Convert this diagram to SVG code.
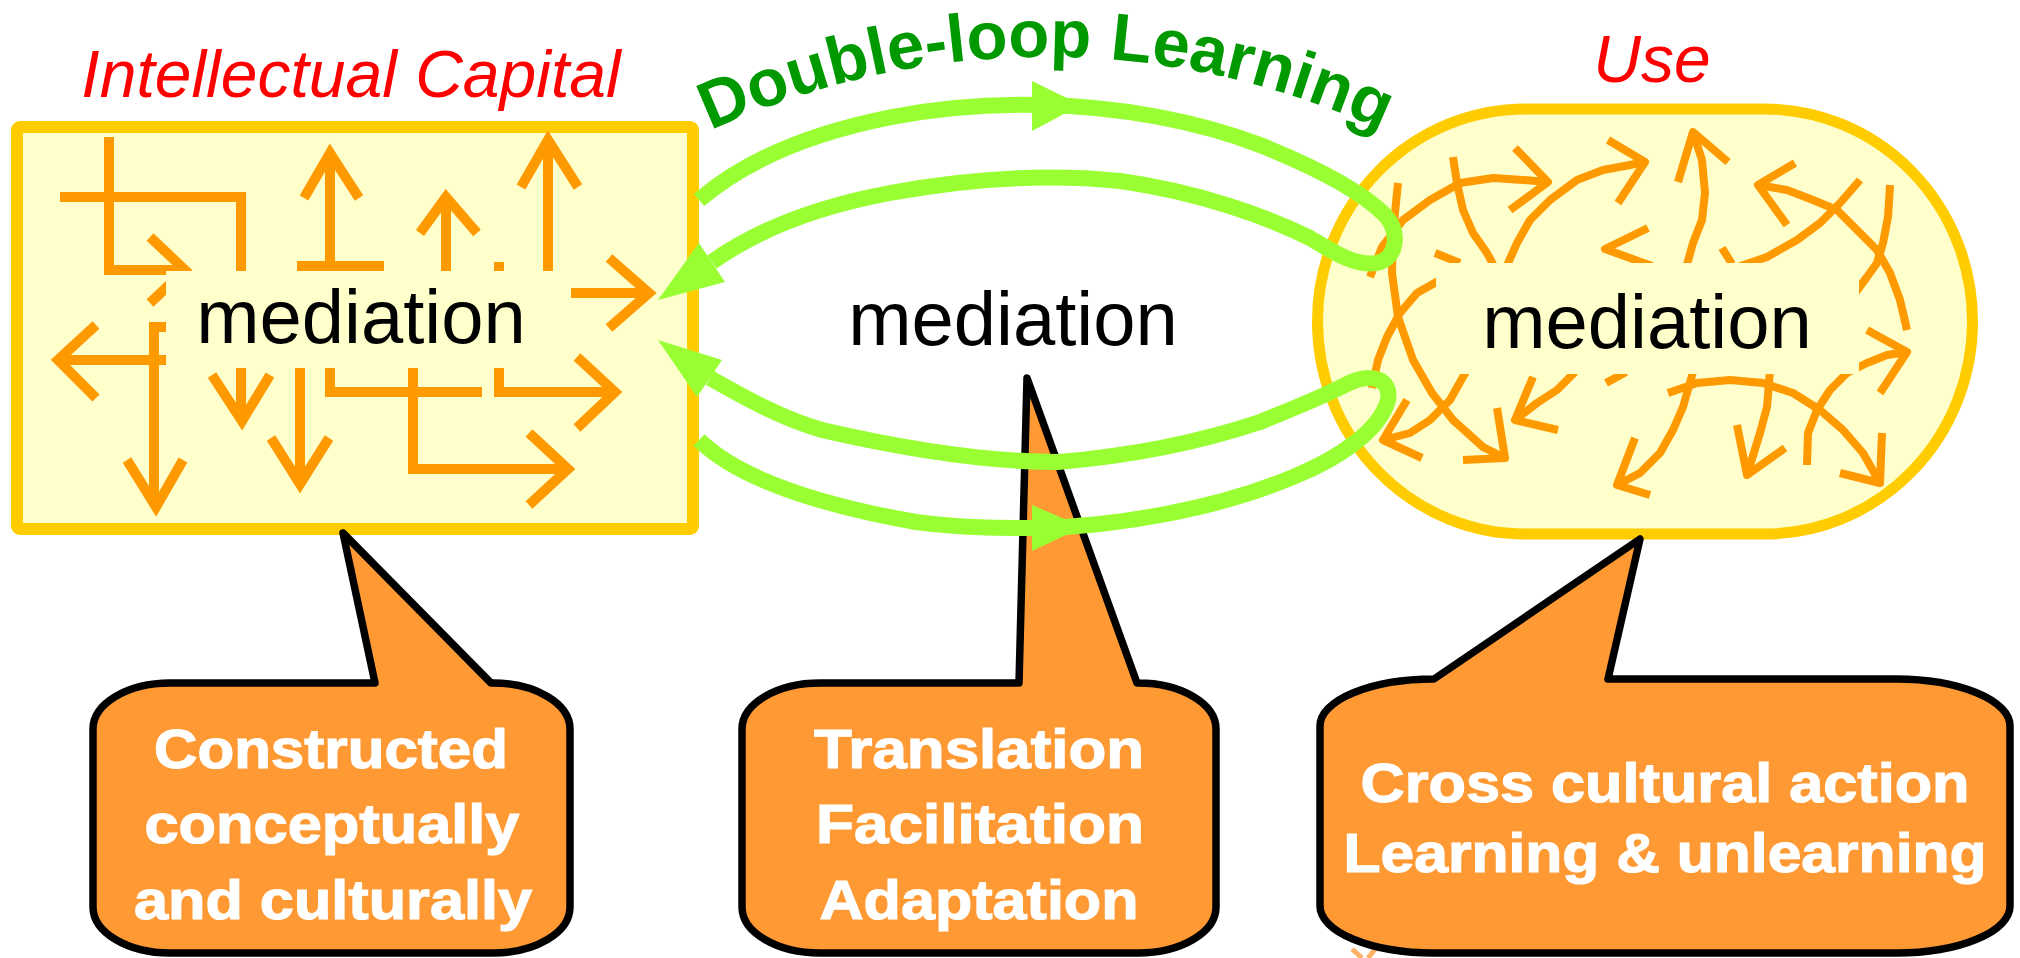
<svg xmlns="http://www.w3.org/2000/svg" width="2020" height="958" viewBox="0 0 2020 958">
  <style>
    .box { fill: #FFFFCC; stroke: #FFCC00; }
    .pad { fill: #FFFFCC; stroke: none; }
    .ar { fill: none; stroke: #FF9900; stroke-width: 10; stroke-linejoin: miter; stroke-linecap: butt; }
    .cu { fill: none; stroke: #FF9900; stroke-width: 8; stroke-linejoin: round; stroke-linecap: butt; }
    .loop { fill: none; stroke: #99FF33; stroke-width: 16; stroke-linejoin: round; }
    .head { fill: #99FF33; stroke: none; }
    .callout { fill: #FF9933; stroke: #000000; stroke-width: 7.5; stroke-linejoin: round; }
    .med { font-family: "Liberation Sans", Arial, sans-serif; font-size: 76px; fill: #000000; text-anchor: middle; }
    .title { font-family: "Liberation Sans", Arial, sans-serif; font-style: italic; font-size: 66px; fill: #FF0000; text-anchor: middle; }
    .ct { font-family: "Liberation Sans", Arial, sans-serif; font-weight: bold; font-size: 55px; fill: #FFFFFF; stroke: #FFFFFF; stroke-width: 1.2; text-anchor: middle; }
    .dl { font-family: "Liberation Sans", Arial, sans-serif; font-weight: bold; font-size: 67px; fill: #009900; }
  </style>
  <defs>
    <path id="dlArc" d="M646,164 A800,800 0 0 1 1446,164" fill="none"/>
  </defs>

  <rect width="2020" height="958" fill="#FFFFFF"/>

  <!-- Intellectual Capital: square-grid arrows -->
  <g id="capital">
    <rect class="box" x="17" y="127" width="676" height="402" rx="3" stroke-width="12"/>
    <g class="ar">
      <path d="M60,197 H241 V271"/>
      <path d="M109,137 V270 H185"/>
      <path d="M150,237 L185,270 L150,303"/>
      <path d="M330,155 V266 M297,266 H384 M304,198 L330,153 L359,198"/>
      <path d="M446,199 V271 M420,233 L446,197 L477,233"/>
      <path d="M548,142 V271 M521,187 L548,140 L578,187"/>
      <path d="M571,293 H647 M609,258 L649,293 L609,328"/>
      <path d="M60,360 H166 M96,325 L58,360 L96,398"/>
      <path d="M166,327 H154 V505 M127,460 L156,507 L183,460"/>
      <path d="M241,368 V419 M212,375 L242,421 L270,375"/>
      <path d="M300,368 V482 M271,438 L300,484 L329,438"/>
      <path d="M330,368 V392 H482"/>
      <path d="M413,368 V469 H566 M529,433 L568,469 L529,505"/>
      <path d="M499,368 V392 H613 M577,357 L615,392 L577,428"/>
    </g>
    <rect x="494" y="262" width="10" height="9" fill="#FF9900"/>
    <rect class="pad" x="166" y="271" width="405" height="97"/>
    <text class="med" x="361" y="343">mediation</text>
  </g>

  <!-- Use: free-form curved arrows -->
  <g id="use">
    <rect class="box" x="1317.5" y="109" width="655" height="425" rx="208" ry="212.5" stroke-width="11"/>
    <g class="cu">
      <path d="M1398,183 L1393,233 L1392,273 L1398,317 L1413,360 L1432,393 L1453,420 L1483,447 L1505,458 M1497,408 L1505,458 L1463,460"/>
      <path d="M1370,277 L1382,247 L1403,220 L1430,200 L1460,183 L1493,178 L1523,180 L1548,182 M1515,148 L1548,182 L1510,210"/>
      <path d="M1453,157 L1457,183 L1463,210 L1473,233 L1487,253 L1496,270"/>
      <path d="M1440,280 L1417,293 L1400,313 L1387,337 L1378,360 L1372,388"/>
      <path d="M1468,368 L1450,400 L1430,420 L1410,433 L1383,440 M1407,400 L1383,440 L1422,458"/>
      <path d="M1505,270 L1517,243 L1530,220 L1550,200 L1577,180 L1603,170 L1630,165 L1645,162 M1608,140 L1645,162 L1618,203"/>
      <path d="M1648,228 L1605,249 L1652,266"/>
      <path d="M1575,372 L1557,390 L1537,403 L1515,420 M1533,377 L1515,420 L1558,430"/>
      <path d="M1606,383 L1626,372"/>
      <path d="M1693,372 L1683,407 L1673,430 L1660,453 L1640,473 L1617,485 M1635,438 L1617,485 L1650,495"/>
      <path d="M1668,393 L1697,383 L1730,380 L1763,383 L1793,393 L1820,410 L1843,430 L1863,453 L1880,483 M1882,433 L1880,483 L1840,473"/>
      <path d="M1770,370 L1767,407 L1760,433 L1747,475 M1737,425 L1747,475 L1785,448"/>
      <path d="M1807,465 L1808,433 L1817,410 L1830,390 L1847,373 L1867,363 L1887,355 L1907,352 M1867,330 L1907,352 L1880,393"/>
      <path d="M1686,268 L1693,243 L1702,220 L1705,193 L1702,160 L1693,132 M1678,182 L1693,132 L1728,162"/>
      <path d="M1907,330 L1900,300 L1890,273 L1877,250 L1857,230 L1837,210 L1813,200 L1787,190 L1758,185 M1795,163 L1758,185 L1787,225"/>
      <path d="M1735,268 L1767,257 L1797,240 L1820,223 L1840,203 L1860,180"/>
      <path d="M1722,248 L1732,264"/>
      <path d="M1890,185 L1888,217 L1883,243 L1877,263 L1867,277 L1855,293"/>
      <path d="M1435,253 L1460,263"/>
    </g>
    <rect class="pad" x="1436" y="263" width="423" height="111"/>
    <text class="med" x="1647" y="348">mediation</text>
  </g>

  <!-- centre label -->
  <g id="centre">
    <text class="med" x="1013" y="345">mediation</text>
  </g>

  <!-- faint mark peeking from below the right bubble -->
  <path d="M1352,949 L1362,958 M1376,948 L1368,958" fill="none" stroke="#FFB366" stroke-width="5"/>

  <!-- speech bubbles -->
  <g id="note-capital">
    <path class="callout" d="M170,683 H375 L343,533 L491,683 H493 A77,46 0 0 1 570,729 V907 A77,46 0 0 1 493,953 H170 A77,46 0 0 1 93,907 V729 A77,46 0 0 1 170,683 Z"/>
    <text class="ct" x="331" y="768" textLength="354" lengthAdjust="spacingAndGlyphs">Constructed</text>
    <text class="ct" x="332" y="843" textLength="375" lengthAdjust="spacingAndGlyphs">conceptually</text>
    <text class="ct" x="333" y="919" textLength="398" lengthAdjust="spacingAndGlyphs">and culturally</text>
  </g>
  <g id="note-mediation">
    <path class="callout" d="M820,683 H1019 L1027,378 L1137,683 H1138 A78,46 0 0 1 1216,729 V907 A78,46 0 0 1 1138,953 H820 A78,46 0 0 1 742,907 V729 A78,46 0 0 1 820,683 Z"/>
    <text class="ct" x="979" y="768" textLength="330" lengthAdjust="spacingAndGlyphs">Translation</text>
    <text class="ct" x="980" y="843" textLength="328" lengthAdjust="spacingAndGlyphs">Facilitation</text>
    <text class="ct" x="979" y="919" textLength="319" lengthAdjust="spacingAndGlyphs">Adaptation</text>
  </g>
  <g id="note-use">
    <path class="callout" d="M1434,679 L1640,539 L1608,679 H1896 A114,47 0 0 1 2010,726 V906 A114,47 0 0 1 1896,953 H1434 A114,47 0 0 1 1320,906 V726 A114,47 0 0 1 1434,679 Z"/>
    <text class="ct" x="1665" y="802" textLength="609" lengthAdjust="spacingAndGlyphs">Cross cultural action</text>
    <text class="ct" x="1665" y="872" textLength="643" lengthAdjust="spacingAndGlyphs">Learning &amp; unlearning</text>
  </g>

  <!-- double loop connectors -->
  <g id="connectors">
    <path class="loop" d="M699,200 C740,165 800,135 892,117 C950,106 1000,104 1040,105 C1120,106 1200,122 1260,145 C1310,165 1360,190 1385,215 C1400,232 1398,258 1377,263 C1355,267 1330,250 1310,238 C1270,218 1200,192 1120,181 C1040,173 960,180 890,193 C820,206 760,228 712,262"/>
    <polygon class="head" points="1032,81 1032,131 1081,105"/>
    <polygon class="head" points="658,300 699,243 725,282"/>
    <path class="loop" d="M699,440 C740,480 820,505 916,522 C960,528 1000,528 1040,528 C1120,526 1220,508 1293,477 C1340,458 1380,430 1388,400 C1392,378 1370,372 1345,385 C1320,398 1290,410 1260,422 C1200,442 1130,456 1058,462 C980,462 900,448 822,430 C780,418 740,395 710,378"/>
    <polygon class="head" points="1032,505 1032,551 1083,527"/>
    <polygon class="head" points="658,340 722,360 697,397"/>
  </g>

  <!-- headings -->
  <text class="title" x="351" y="97">Intellectual Capital</text>
  <text class="title" x="1652" y="82">Use</text>
  <text class="dl"><textPath href="#dlArc" startOffset="50%" text-anchor="middle">Double-loop Learning</textPath></text>
</svg>
